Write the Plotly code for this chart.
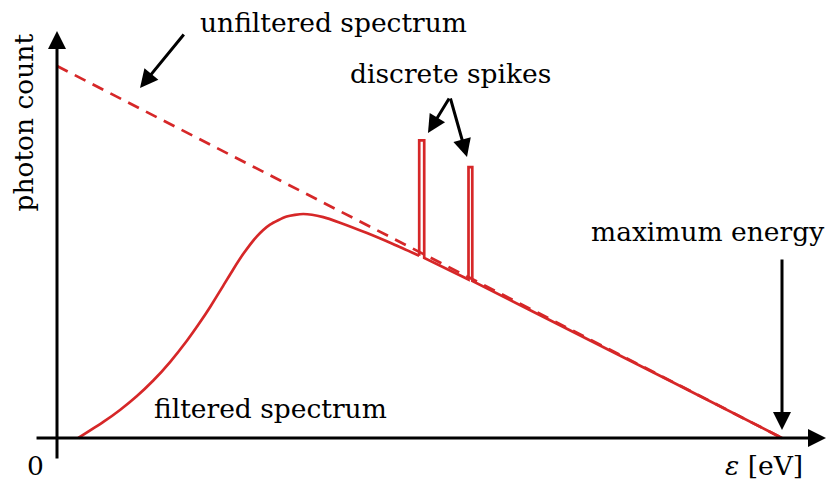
import plotly.graph_objects as go

# ---- data (energy in % of max energy, counts in % of unfiltered count at 0) ----
unfilt_energy = [0, 100]
unfilt_counts = [100, 0]

smooth_energy = [2.94, 6.39, 8.69, 10.99, 13.28, 15.59, 17.89, 19.72, 21.10, 22.94, 24.32,
                 25.70, 27.54, 29.38, 31.68, 33.97, 36.73, 39.03, 42.76, 46.34, 49.96]
smooth_counts = [0, 4.31, 7.53, 11.21, 15.45, 20.42, 26.06, 31.09, 35.16, 40.96, 45.38,
                 49.52, 54.12, 57.34, 59.53, 60.22, 59.39, 57.89, 55.09, 52.15, 49.0]

spike_energy = [49.96, 49.96, 50.65, 50.65, 56.76, 56.76, 57.28, 57.28, 65, 75, 85, 100]
spike_counts = [49.0, 80.0, 80.0, 48.4, 42.6, 72.8, 72.8, 42.2, 34.6, 24.8, 14.9, 0]

RED = "#d62728"
FONT = "DejaVu Serif"
FS = 26.5

fig = go.Figure()
fig.add_trace(go.Scatter(x=unfilt_energy, y=unfilt_counts, mode="lines",
                         line=dict(color=RED, width=2.7, dash="12px,8px")))
fig.add_trace(go.Scatter(x=smooth_energy, y=smooth_counts, mode="lines",
                         line=dict(color=RED, width=2.7, shape="spline", smoothing=0.6)))
fig.add_trace(go.Scatter(x=spike_energy, y=spike_counts, mode="lines",
                         line=dict(color=RED, width=2.7)))

def arrow(x, y, ax, ay, w=3, size=1.2):
    fig.add_annotation(x=x, y=y, ax=ax, ay=ay, xref="x", yref="y", axref="x", ayref="y",
                       text="", showarrow=True, arrowhead=2, arrowwidth=w,
                       arrowsize=size, arrowcolor="black", standoff=0, startstandoff=0)

# axes
arrow(106.07, 0, -3.03, 0)
arrow(0, 109.4, 0, -5.91)
# pointers
arrow(11.45, 94.09, 17.66, 108.87)
arrow(51.17, 81.99, 54.21, 91.67)
arrow(56.55, 75.54, 54.21, 91.67)
arrow(100, 2.15, 100, 48.39)

def label(x, y, t, angle=0):
    fig.add_annotation(x=x, y=y, xref="x", yref="y", text=t, showarrow=False,
                       textangle=angle, font=dict(family=FONT, size=FS, color="black"),
                       xanchor="center", yanchor="middle")

label(38.07, 111.8, "unfiltered spectrum")
label(54.34, 98.1, "discrete spikes")
label(89.66, 55.6, "maximum energy")
label(29.38, 8.06, "filtered spectrum")
label(-4.6, 84.7, "photon count", angle=-90)
label(-2.9, -7.5, "0")
label(97.5, -7.5, "<i>ε</i> [eV]")

fig.update_layout(
    width=826, height=489, margin=dict(l=0, r=0, t=0, b=0),
    paper_bgcolor="white", plot_bgcolor="white", showlegend=False,
    xaxis=dict(range=[-57 / 7.25, (826 - 57) / 7.25], visible=False, fixedrange=True),
    yaxis=dict(range=[(438 - 489) / 3.72, 438 / 3.72], visible=False, fixedrange=True),
)
fig.write_html("out.html")
